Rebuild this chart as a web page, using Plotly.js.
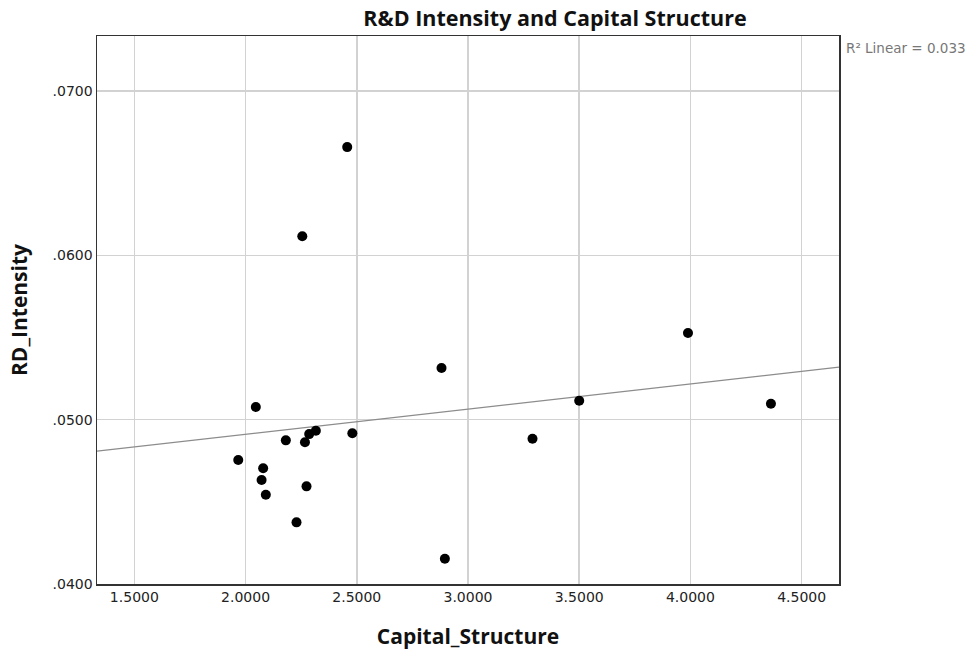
<!DOCTYPE html>
<html>
<head>
<meta charset="utf-8">
<script src="https://cdn.plot.ly/plotly-3.0.1.min.js"></script>
<style>
  html, body { margin: 0; padding: 0; background: #ffffff; }
  #chart { width: 976px; height: 656px; }
</style>
</head>
<body>
<div id="chart"></div>
<script>
// Capital_Structure (x) and RD_Intensity (y)
const capitalStructure = [2.046, 1.967, 2.079, 2.072, 2.091, 2.181, 2.267, 2.286, 2.316, 2.274,
                          2.229, 2.480, 2.457, 2.255, 2.881, 3.500, 3.290, 4.362, 2.896, 3.989];
const rdIntensity      = [0.05077, 0.04754, 0.04704, 0.04633, 0.04543, 0.04874, 0.04862, 0.04912, 0.04932, 0.04594,
                          0.04375, 0.04917, 0.06658, 0.06116, 0.05314, 0.05115, 0.04884, 0.05097, 0.04154, 0.05527];
const xTicks = [1.5, 2.0, 2.5, 3.0, 3.5, 4.0, 4.5];
const xTickLabels = ["1.5000", "2.0000", "2.5000", "3.0000", "3.5000", "4.0000", "4.5000"];
const yTicks = [0.04, 0.05, 0.06, 0.07];
const yTickLabels = [".0400", ".0500", ".0600", ".0700"];
const xRange = [1.332, 4.668];
const yRange = [0.04, 0.07334];
const r2Label = "R\u00B2 Linear = 0.033";

// least-squares linear fit
const n = capitalStructure.length;
const mx = capitalStructure.reduce((a, b) => a + b, 0) / n;
const my = rdIntensity.reduce((a, b) => a + b, 0) / n;
let sxy = 0, sxx = 0;
for (let i = 0; i < n; i++) {
  sxy += (capitalStructure[i] - mx) * (rdIntensity[i] - my);
  sxx += (capitalStructure[i] - mx) ** 2;
}
const slope = sxy / sxx;
const intercept = my - slope * mx;
const fitX = xRange.slice();
const fitY = fitX.map(v => intercept + slope * v);

const tickFont = { family: "DejaVu Sans, Verdana, sans-serif", size: 14, color: "#222" };
const boldFont = { family: "Open Sans, Liberation Sans, sans-serif", size: 21, color: "#111" };

const traces = [
  {
    x: fitX, y: fitY, type: "scatter", mode: "lines",
    line: { color: "#8c8c8c", width: 1.2 },
    hoverinfo: "skip", showlegend: false
  },
  {
    x: capitalStructure, y: rdIntensity, type: "scatter", mode: "markers",
    marker: { color: "#000", size: 10 },
    showlegend: false
  }
];

const layout = {
  width: 976, height: 656,
  margin: { l: 97, r: 137, t: 36, b: 72 },
  paper_bgcolor: "#fff", plot_bgcolor: "#fff",
  title: {
    text: "<b>R&D Intensity and Capital Structure</b>",
    font: { family: "Open Sans, Liberation Sans, sans-serif", size: 21.5, color: "#111" },
    x: 555 / 976, xanchor: "center", xref: "container",
    y: 1 - 18 / 656, yanchor: "middle", yref: "container"
  },
  xaxis: {
    range: xRange, tickvals: xTicks, ticktext: xTickLabels,
    showgrid: true, gridcolor: "#d2d2d2", gridwidth: 1.5,
    zeroline: false, showline: true, linecolor: "#333", linewidth: 1.5, mirror: true,
    ticks: "", tickfont: tickFont,
    title: { text: "<b>Capital_Structure</b>", font: boldFont, standoff: 25 }
  },
  yaxis: {
    range: yRange, tickvals: yTicks, ticktext: yTickLabels,
    showgrid: true, gridcolor: "#d2d2d2", gridwidth: 1.5,
    zeroline: false, showline: true, linecolor: "#333", linewidth: 1.5, mirror: true,
    ticks: "", tickfont: tickFont,
    title: { text: "<b>RD_Intensity</b>", font: boldFont, standoff: 19 }
  },
  annotations: [
    {
      text: r2Label, xref: "paper", yref: "paper", x: 1, y: 1,
      xanchor: "left", yanchor: "top", xshift: 5, yshift: -2,
      showarrow: false, font: { family: "DejaVu Sans, sans-serif", size: 13.5, color: "#777" }
    }
  ]
};

Plotly.newPlot("chart", traces, layout, { displayModeBar: false, staticPlot: true });
</script>
</body>
</html>
